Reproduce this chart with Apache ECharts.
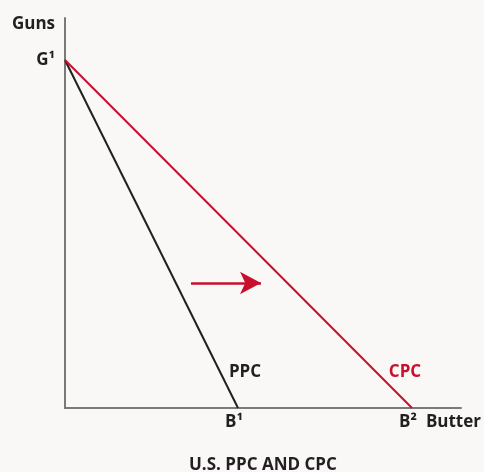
<!DOCTYPE html>
<html><head><meta charset="utf-8">
<script src="https://cdn.jsdelivr.net/npm/echarts@6/dist/echarts.min.js"></script>
<style>html,body{margin:0;padding:0;background:#f9f8f6}#c{width:484px;height:472px}</style>
</head><body><div id="c"></div>
<script>
// Values (butter on x, guns on y)
const gunsMax = 348;          // G1 intercept
const butterPPC = 173;        // B1 intercept
const butterCPC = 347;        // B2 intercept
const ppcData = [[0, gunsMax], [butterPPC, 0]];
const cpcData = [[0, gunsMax], [butterCPC, 0]];
const arrowFrom = [126, 125];
const arrowTo = [196, 125];
const xTicks = [butterPPC, butterCPC];
const xTickLabels = ['B¹', 'B²'];
const yTicks = [gunsMax];
const yTickLabels = ['G¹'];
const curveLabels = [
  {name: 'PPC', value: [180, 36], color: '#231f20'},
  {name: 'CPC', value: [340, 36], color: '#c8102e'}
];
const font = '"Open Sans", Lato, sans-serif';
const fs = 17;
const chart = echarts.init(document.getElementById('c'));
chart.setOption({
  backgroundColor: '#f9f8f6',
  animation: false,
  title: {text: 'U.S. PPC AND CPC', left: 184, top: 452,
    textStyle: {fontFamily: font, fontWeight: 'bold', fontSize: fs, color: '#231f20'}},
  grid: {left: 65, top: 18, right: 23, bottom: 64},
  xAxis: {type: 'value', min: 0, max: 396,
    name: 'Butter', nameLocation: 'end', nameGap: 0,
    nameTextStyle: {fontFamily: font, fontWeight: 'bold', fontSize: fs, color: '#231f20', align: 'right', verticalAlign: 'top', padding: [6, -20, 0, 0]},
    axisLine: {lineStyle: {color: '#7a7a7a', width: 2}},
    axisTick: {show: false}, splitLine: {show: false},
    axisLabel: {customValues: xTicks, formatter: v => xTickLabels[xTicks.indexOf(v)],
      fontFamily: font, fontWeight: 'bold', fontSize: fs, color: '#231f20', margin: 6, padding: [0, 8, 0, 0]}},
  yAxis: {type: 'value', min: 0, max: 390,
    name: 'Guns', nameLocation: 'end', nameGap: 0,
    nameTextStyle: {fontFamily: font, fontWeight: 'bold', fontSize: fs, color: '#231f20', align: 'right', verticalAlign: 'top', padding: [-2, 10, 0, 0]},
    axisLine: {show: true, lineStyle: {color: '#7a7a7a', width: 2}},
    axisTick: {show: false}, splitLine: {show: false},
    axisLabel: {customValues: yTicks, formatter: v => yTickLabels[yTicks.indexOf(v)],
      fontFamily: font, fontWeight: 'bold', fontSize: fs, color: '#231f20', margin: 10}},
  series: [
    {type: 'line', data: ppcData, symbol: 'none', lineStyle: {color: '#231f20', width: 2}},
    {type: 'line', data: cpcData, symbol: 'none', lineStyle: {color: '#c8102e', width: 2},
      markLine: {silent: true, symbol: ['none', 'arrow'], symbolSize: [17, 21],
        lineStyle: {color: '#c8102e', width: 2.5, type: 'solid'}, label: {show: false},
        data: [[{coord: arrowFrom}, {coord: arrowTo}]]}},
    {type: 'scatter', symbolSize: 0, silent: true, itemStyle: {opacity: 1},
      data: curveLabels.map(d => ({value: d.value, name: d.name,
        label: {show: true, position: 'inside', formatter: d.name, color: d.color,
          textBorderWidth: 0, fontFamily: font, fontWeight: 'bold', fontSize: fs}}))}
  ]
});
</script></body></html>
